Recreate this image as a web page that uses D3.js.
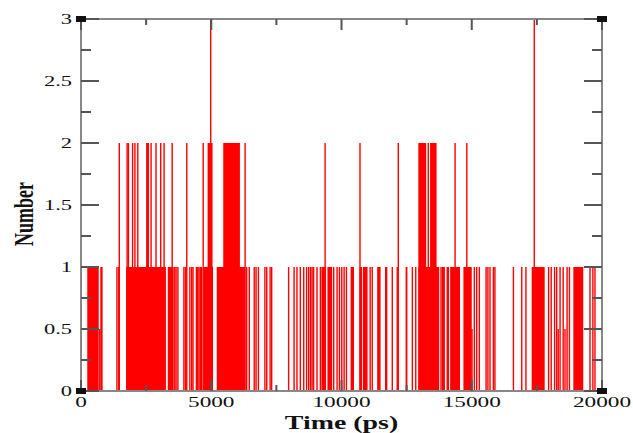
<!DOCTYPE html>
<html lang="en">
<head>
  <meta charset="UTF-8">
  <title>Number vs Time</title>
  <script src="https://d3js.org/d3.v7.min.js"></script>
  <style>
    body { margin: 0; padding: 0; background: #fff; }
    svg { display: block; }
    text { font-family: "Liberation Serif", "DejaVu Serif", serif; fill: #111; }
  </style>
</head>
<body>
  <div id="chart"></div>
  <script>
    // axis ticks
    const xTicks = [0, 5000, 10000, 15000, 20000];
    const yTicks = [0, 0.5, 1, 1.5, 2, 2.5, 3];

    // runs where the count flips so fast the trace looks solid: [start, end, level]
    const blocks = [
      [240, 680, 1], [740, 830, 1], [1730, 3260, 1], [3330, 3560, 1], [4700, 5070, 1],
      [5210, 6300, 1], [9230, 9400, 1], [9460, 9640, 1], [10350, 10480, 1], [10820, 11000, 1],
      [11370, 11500, 1], [11670, 11760, 1], [12460, 12530, 1], [12950, 13750, 1],
      [13850, 13970, 1], [14170, 14550, 1], [14680, 15000, 1], [17300, 17800, 1],
      [18900, 19280, 1],
      [2500, 2610, 2], [4860, 5050, 2], [5460, 6100, 2], [12950, 13250, 2], [13400, 13650, 2]
    ];

    // single frames: [time, count]
    const spikes1 = [1380, 1450, 3600, 3650, 3720, 3950, 4010,
      4180, 4250, 4300, 4430, 4480, 4530, 4580, 4630, 6360, 6460, 6650, 6720, 6810, 7060,
      7130, 7260, 7320, 7970, 8180, 8290, 8420, 8550, 8660, 8740, 8810, 8870, 8930, 9060,
      9190, 9700, 9830, 9920, 10010, 10100, 10190, 10720, 10760, 11100, 11180, 11950, 12140,
      12720, 12850, 13820, 14060, 14100, 15100, 15190, 15290, 15550, 15620, 15700, 15830,
      15890, 16600, 16920, 17080, 17950, 18050, 18180, 18260, 18390, 18510, 18660, 18750,
      19540, 19650, 19730];
    const spikes2 = [1470, 1770, 1820, 1980, 2070, 2180, 2690, 2880, 3060, 3190, 3500, 4060,
      4690, 6300, 9370, 10710, 12180, 13330, 14360, 14810];
    const spikes3 = [4980, 17400];
    const spikesHalf = [720, 15010, 18320, 18580];

    const W = 633, H = 433;
    const margin = { top: 19, right: 31, bottom: 42, left: 81 };
    const sx = 1.55; // glyphs are stretched sideways in the original

    const svg = d3.select("#chart").append("svg")
      .attr("width", W).attr("height", H);

    const x = d3.scaleLinear().domain([0, 20000]).range([margin.left, W - margin.right]);
    const y = d3.scaleLinear().domain([0, 3]).range([H - margin.bottom, margin.top]);

    // data
    const plot = svg.append("g");
    plot.selectAll("rect.blk")
      .data(blocks)
      .enter().append("rect")
        .attr("class", "blk")
        .attr("x", d => x(d[0]))
        .attr("width", d => x(d[1]) - x(d[0]))
        .attr("y", d => y(d[2]))
        .attr("height", d => y(0) - y(d[2]))
        .attr("fill", "#ff0000");

    const spikes = []
      .concat(spikes1.map(t => [t, 1]))
      .concat(spikes2.map(t => [t, 2]))
      .concat(spikes3.map(t => [t, 3]))
      .concat(spikesHalf.map(t => [t, 0.5]));

    plot.selectAll("line.spk")
      .data(spikes)
      .enter().append("line")
        .attr("class", "spk")
        .attr("x1", d => x(d[0])).attr("x2", d => x(d[0]))
        .attr("y1", y(0)).attr("y2", d => y(d[1]))
        .attr("stroke", "#ff0000")
        .attr("stroke-width", 1.4);

    // frame + ticks
    const axisG = svg.append("g");
    const tickCol = "#555", frameCol = "#888";
    const x0 = x(0), x1 = x(20000), y0 = y(0), y1 = y(3);

    axisG.append("rect")
      .attr("x", x0).attr("y", y1)
      .attr("width", x1 - x0).attr("height", y0 - y1)
      .attr("fill", "none").attr("stroke", frameCol).attr("stroke-width", 2);

    const xMinor = d3.range(0, 20001, 2500);
    xMinor.forEach(v => {
      const len = v % 5000 === 0 ? 11 : 6;
      axisG.append("line").attr("x1", x(v)).attr("x2", x(v))
        .attr("y1", y0).attr("y2", y0 - len).attr("stroke", tickCol).attr("stroke-width", 2);
      axisG.append("line").attr("x1", x(v)).attr("x2", x(v))
        .attr("y1", y1).attr("y2", y1 + len).attr("stroke", tickCol).attr("stroke-width", 2);
    });
    const yMinor = d3.range(0, 3.001, 0.25);
    yMinor.forEach(v => {
      const len = Math.abs(v * 2 - Math.round(v * 2)) < 1e-6 ? 18 : 10;
      axisG.append("line").attr("x1", x0).attr("x2", x0 + len)
        .attr("y1", y(v)).attr("y2", y(v)).attr("stroke", tickCol).attr("stroke-width", 2);
      axisG.append("line").attr("x1", x1).attr("x2", x1 - len)
        .attr("y1", y(v)).attr("y2", y(v)).attr("stroke", tickCol).attr("stroke-width", 2);
    });

    // corner markers
    [[0, 0], [0, 3], [20000, 3], [20000, 0]].forEach(p => {
      axisG.append("rect")
        .attr("x", x(p[0]) - 5).attr("y", y(p[1]) - 3)
        .attr("width", 10).attr("height", 6)
        .attr("fill", "#111");
    });

    // tick labels
    svg.append("g").selectAll("text")
      .data(xTicks)
      .enter().append("text")
        .attr("transform", d => `translate(${x(d)},${y0 + 16}) scale(${sx},1)`)
        .attr("text-anchor", "middle")
        .style("font-size", "15px")
        .text(d => d);

    svg.append("g").selectAll("text")
      .data(yTicks)
      .enter().append("text")
        .attr("transform", d => `translate(${x0 - 9},${y(d)}) scale(${sx},1)`)
        .attr("text-anchor", "end")
        .attr("dy", "0.35em")
        .style("font-size", "14.5px")
        .text(d => d);

    // axis titles
    svg.append("text")
      .attr("transform", `translate(${(x0 + x1) / 2},${H - 4}) scale(${sx},1)`)
      .attr("text-anchor", "middle")
      .style("font-size", "18px")
      .style("font-weight", "bold")
      .text("Time (ps)");

    svg.append("text")
      .attr("transform", `translate(33,214) scale(${sx},1) rotate(-90)`)
      .attr("text-anchor", "middle")
      .style("font-size", "18px")
      .style("font-weight", "bold")
      .text("Number");
  </script>
</body>
</html>
